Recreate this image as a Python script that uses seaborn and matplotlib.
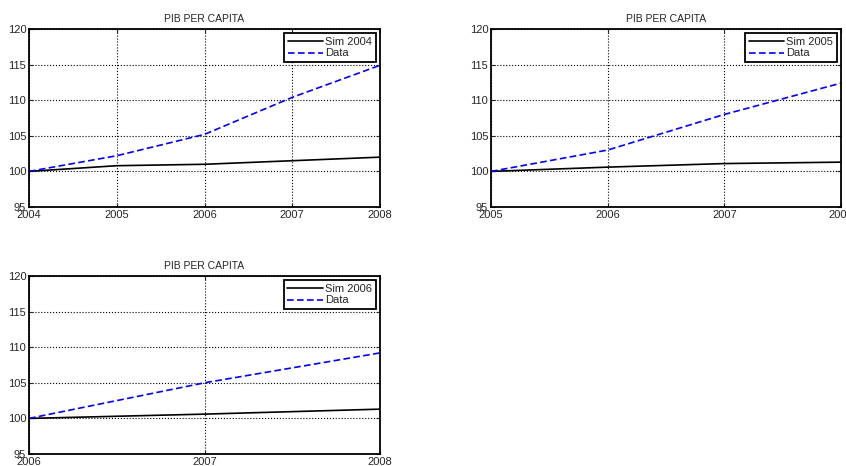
import seaborn as sns
import matplotlib.pyplot as plt
import pandas as pd

sns.set_style("white")
plt.rcParams['font.family'] = ['Liberation Sans', 'DejaVu Sans']

# datos
anios_1 = [2004, 2005, 2006, 2007, 2008]
sim_2004 = [100.0, 100.8, 101.0, 101.5, 102.0]
data_1 = [100.0, 102.2, 105.2, 110.4, 114.9]

anios_2 = [2005, 2006, 2007, 2008]
sim_2005 = [100.0, 100.6, 101.1, 101.3]
data_2 = [100.0, 103.0, 108.0, 112.4]

anios_3 = [2006, 2007, 2008]
sim_2006 = [100.0, 100.6, 101.3]
data_3 = [100.0, 105.0, 109.2]

W, H = 846, 466
fig = plt.figure(figsize=(W / 100, H / 100), dpi=100)

# posiciones en pixeles (izq, der, arriba, abajo)
cajas = [(29, 380, 29, 207), (491, 841, 29, 207), (29, 380, 276, 454)]
paneles = [
    (anios_1, sim_2004, data_1, "Sim 2004"),
    (anios_2, sim_2005, data_2, "Sim 2005"),
    (anios_3, sim_2006, data_3, "Sim 2006"),
]

for (x0, x1, y0, y1), (anios, sim, dat, nombre) in zip(cajas, paneles):
    ax = fig.add_axes([x0 / W, 1 - y1 / H, (x1 - x0) / W, (y1 - y0) / H])
    df = pd.DataFrame({"anio": anios, "sim": sim, "data": dat})
    sns.lineplot(data=df, x="anio", y="sim", ax=ax, color="black", lw=1.2, label=nombre)
    sns.lineplot(data=df, x="anio", y="data", ax=ax, color="blue", lw=1.2,
                 linestyle=(0, (4, 2)), label="Data")
    ax.set_xlim(anios[0], anios[-1])
    ax.set_ylim(95, 120)
    ax.set_xticks(anios)
    ax.set_xticklabels([str(a) for a in anios])
    ax.set_yticks([95, 100, 105, 110, 115, 120])
    ax.grid(True, color="black", linestyle=":", linewidth=0.8)
    ax.tick_params(direction="in", length=3, labelsize=8, pad=2,
                   top=True, right=True, bottom=True, left=True)
    for s in ax.spines.values():
        s.set_color("black")
        s.set_linewidth(1.3)
    ax.set_xlabel("")
    ax.set_ylabel("")
    ax.set_title("PIB PER CAPITA", fontsize=7.5, pad=5)
    leg = ax.legend(loc="upper right", fontsize=8, frameon=True, fancybox=False,
                    borderaxespad=0.4, handlelength=3.2, handletextpad=0.2,
                    labelspacing=0.15, borderpad=0.3)
    leg.get_frame().set_edgecolor("black")
    leg.get_frame().set_linewidth(1.3)
    leg.get_frame().set_alpha(1)

fig.savefig("out.png", dpi=100)
